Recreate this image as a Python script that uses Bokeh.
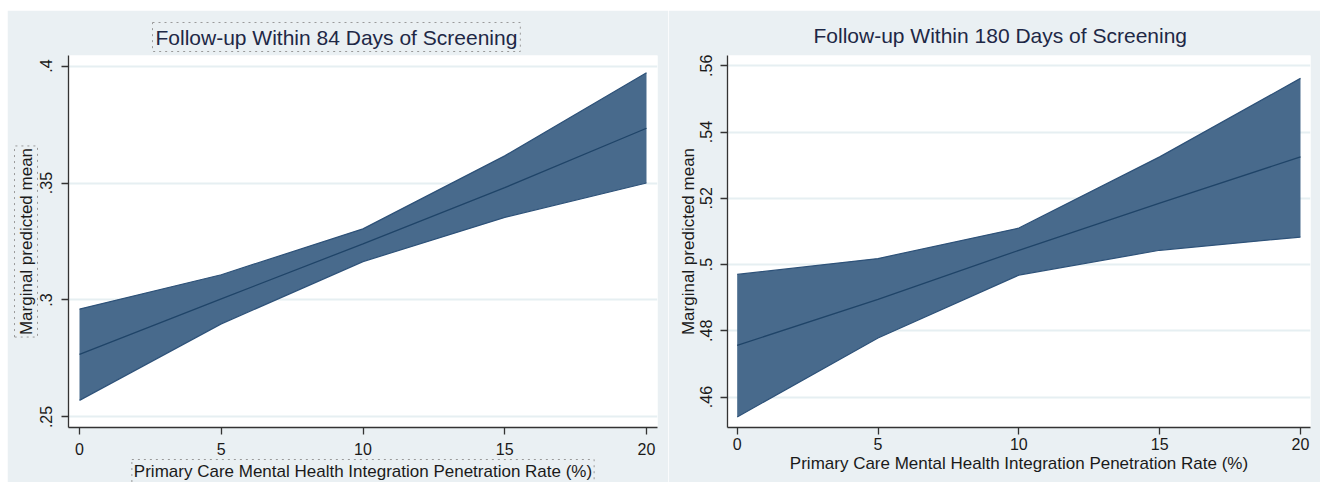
from bokeh.plotting import figure
from bokeh.layouts import row
from bokeh.models import Range1d, FixedTicker, Title
from bokeh.embed import file_html
from bokeh.resources import INLINE

# ---- data ----
x_rate = [0, 5, 10, 15, 20]

mean_84 = [0.2768, 0.3005, 0.3240, 0.3480, 0.3734]
lo_84 = [0.2571, 0.2898, 0.3164, 0.3353, 0.3500]
hi_84 = [0.2961, 0.3108, 0.3304, 0.3616, 0.3971]

mean_180 = [0.4756, 0.4895, 0.5043, 0.5185, 0.5325]
lo_180 = [0.4540, 0.4778, 0.4968, 0.5043, 0.5083]
hi_180 = [0.4970, 0.5018, 0.5110, 0.5325, 0.5562]

x_ticks = [0, 5, 10, 15, 20]
x_labels = ["0", "5", "10", "15", "20"]
y_ticks_84 = [0.25, 0.3, 0.35, 0.4]
y_labels_84 = [".25", ".3", ".35", ".4"]
y_ticks_180 = [0.46, 0.48, 0.5, 0.52, 0.54, 0.56]
y_labels_180 = [".46", ".48", ".5", ".52", ".54", ".56"]

title_84 = "Follow-up Within 84 Days of Screening"
title_180 = "Follow-up Within 180 Days of Screening"
x_title = "Primary Care Mental Health Integration Penetration Rate (%)"
y_title = "Marginal predicted mean"

FONT = "Liberation Sans"
BG = "#eaf0f3"
FILL = "#486a8c"
EDGE = "#2e5279"
MEANC = "#1f4468"
TXT = "#1a1a1a"
BOXC = "#9a9a9a"


def style_axis(ax, lab_standoff):
    ax.major_label_text_font = FONT
    ax.major_label_text_font_size = "16px"
    ax.major_label_text_color = TXT
    ax.major_label_standoff = lab_standoff
    ax.axis_label_text_font = FONT
    ax.axis_label_text_font_size = "17px"
    ax.axis_label_text_font_style = "normal"
    ax.axis_label_text_color = TXT
    ax.major_tick_out = 7
    ax.major_tick_in = 0
    ax.minor_tick_line_color = None
    ax.axis_line_color = "#333333"
    ax.axis_line_width = 1.3
    ax.major_tick_line_color = "#333333"
    ax.major_tick_line_width = 1.3


def make_panel(title, mean, lo, hi, yt, yl, xr, yr, width, height, borders,
               title_offset, title_standoff, boxed):
    bl, br, bt, bb = borders
    p = figure(width=width, height=height, output_backend="svg", toolbar_location=None,
               x_range=Range1d(*xr), y_range=Range1d(*yr),
               min_border_left=bl, min_border_right=br, min_border_top=bt, min_border_bottom=bb)
    p.border_fill_color = BG
    p.background_fill_color = "white"
    p.outline_line_color = None

    t = Title(text=title, align="left", offset=title_offset, text_font=FONT,
              text_font_size="21px", text_font_style="normal", text_color="#1e2846",
              standoff=title_standoff, padding=3)
    if boxed:
        t.border_line_color = BOXC
        t.border_line_dash = "dotted"
        t.border_line_width = 1
    p.add_layout(t, "above")

    p.varea(x=x_rate, y1=lo, y2=hi, fill_color=FILL, fill_alpha=1.0)
    p.line(x_rate, lo, line_color=EDGE, line_width=1.2)
    p.line(x_rate, hi, line_color=EDGE, line_width=1.2)
    p.line(x_rate, mean, line_color=MEANC, line_width=1.3)

    xa, ya = p.xaxis[0], p.yaxis[0]
    xa.ticker = FixedTicker(ticks=x_ticks)
    xa.major_label_overrides = {t_: l_ for t_, l_ in zip(x_ticks, x_labels)}
    ya.ticker = FixedTicker(ticks=yt)
    ya.major_label_overrides = {t_: l_ for t_, l_ in zip(yt, yl)}
    ya.major_label_orientation = "vertical"

    p.xgrid.grid_line_color = None
    p.ygrid.ticker = FixedTicker(ticks=yt)
    p.ygrid.grid_line_color = "#e6eff2"
    p.ygrid.grid_line_width = 2
    return p


# ---------------- left panel (84 days) ----------------
p1 = make_panel(title_84, mean_84, lo_84, hi_84, y_ticks_84, y_labels_84,
                (-0.388, 20.388), (0.2455, 0.4045), 661, 472, (61, 11, 45, 49), 84, 8, True)
style_axis(p1.xaxis[0], 8)
style_axis(p1.yaxis[0], 9)
# axis titles drawn as boxed titles (dotted editor frames as in the reference)
yt1 = Title(text=y_title, align="center", text_font=FONT, text_font_size="17px",
            text_font_style="normal", text_color=TXT, standoff=0, padding=2,
            border_line_color=BOXC, border_line_dash="dotted", border_line_width=1)
p1.add_layout(yt1, "left")
xt1 = Title(text=x_title, align="center", text_font=FONT, text_font_size="17px",
            text_font_style="normal", text_color=TXT, standoff=0, padding=2,
            border_line_color=BOXC, border_line_dash="dotted", border_line_width=1)
p1.add_layout(xt1, "below")

# ---------------- right panel (180 days) ----------------
p2 = make_panel(title_180, mean_180, lo_180, hi_180, y_ticks_180, y_labels_180,
                (-0.344, 20.355), (0.4508, 0.5631), 652, 472, (59, 10, 42, 55), 83, 12, False)
xa2, ya2 = p2.xaxis[0], p2.yaxis[0]
style_axis(xa2, 3)
style_axis(ya2, 8)
xa2.axis_label = x_title
xa2.axis_label_standoff = 1
ya2.axis_label = y_title
ya2.axis_label_standoff = 0

layout = row(p1, p2, spacing=0, margin=(10, 0, 0, 7))
open("out.html", "w").write(file_html(layout, INLINE))
